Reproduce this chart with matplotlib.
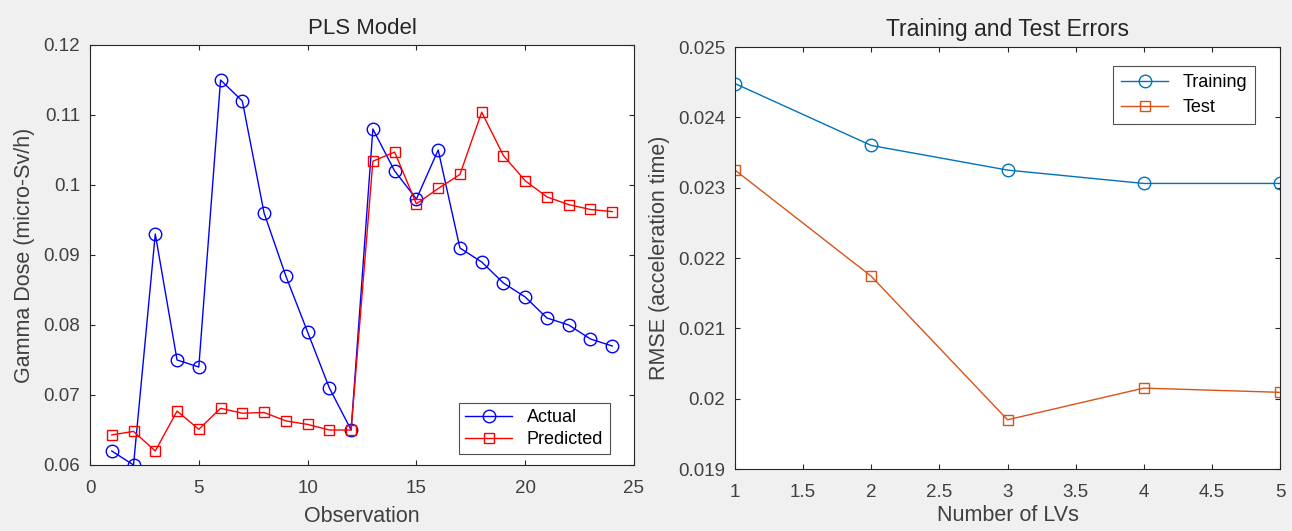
import matplotlib
matplotlib.use("Agg")
import matplotlib.pyplot as plt

plt.rcParams['font.family'] = ['Liberation Sans', 'DejaVu Sans']

# PLS model data
obs = list(range(1, 25))
actual = [0.062, 0.060, 0.093, 0.075, 0.074, 0.115, 0.112, 0.096, 0.087, 0.079, 0.071, 0.065,
          0.108, 0.102, 0.098, 0.105, 0.091, 0.089, 0.086, 0.084, 0.081, 0.080, 0.078, 0.077]
predicted = [0.0643, 0.0648, 0.0620, 0.0677, 0.0651, 0.0681, 0.0674, 0.0675, 0.0663, 0.0658, 0.0650, 0.0650,
             0.1034, 0.1047, 0.0973, 0.0995, 0.1015, 0.1104, 0.1042, 0.1006, 0.0983, 0.0972, 0.0965, 0.0962]

# training / test errors
n_lvs = [1, 2, 3, 4, 5]
train_rmse = [0.02448, 0.02360, 0.02325, 0.02306, 0.02306]
test_rmse = [0.02325, 0.02174, 0.01970, 0.02015, 0.02009]

left_yticks = [0.06, 0.07, 0.08, 0.09, 0.1, 0.11, 0.12]
left_ylabels = ['0.06', '0.07', '0.08', '0.09', '0.1', '0.11', '0.12']
right_xticks = [1, 1.5, 2, 2.5, 3, 3.5, 4, 4.5, 5]
right_xlabels = ['1', '1.5', '2', '2.5', '3', '3.5', '4', '4.5', '5']
right_yticks = [0.019, 0.020, 0.021, 0.022, 0.023, 0.024, 0.025]
right_ylabels = ['0.019', '0.02', '0.021', '0.022', '0.023', '0.024', '0.025']

W, H = 1292, 531
fig = plt.figure(figsize=(W / 100, H / 100), dpi=100, facecolor='#f0f0f0')
txt = '#262626'

def style(ax):
    ax.tick_params(direction='in', top=True, right=True, labelsize=13.5, colors=txt,
                   labelcolor='#404040', length=3.5, width=0.8, pad=7)
    ax.tick_params(axis='x', pad=11)
    for s in ax.spines.values():
        s.set_color(txt)
        s.set_linewidth(0.8)

# left panel
ax1 = fig.add_axes([90 / W, (H - 465) / H, 544 / W, 420 / H])
ax1.plot(obs, actual, '-o', color='blue', markerfacecolor='none', markersize=9, linewidth=1, label='Actual')
ax1.plot(obs, predicted, '-s', color='red', markerfacecolor='none', markersize=6.5, linewidth=1, label='Predicted')
ax1.set_xlim(0, 25)
ax1.set_ylim(0.06, 0.12)
ax1.set_xticks([0, 5, 10, 15, 20, 25])
ax1.set_yticks(left_yticks)
ax1.set_yticklabels(left_ylabels)
ax1.set_title('PLS Model', fontsize=16, color=txt, pad=8)
ax1.set_xlabel('Observation', fontsize=15.5, color='#404040', labelpad=6)
ax1.set_ylabel('Gamma Dose (micro-Sv/h)', fontsize=15.5, color='#404040', labelpad=6)
style(ax1)
leg = ax1.legend(loc='lower right', fontsize=13, fancybox=False, edgecolor=txt,
                 handlelength=2.6, borderaxespad=0.6, borderpad=0.35, labelspacing=0.25,
                 bbox_to_anchor=(0.975, 0.0))
leg.get_frame().set_linewidth(0.8)

# right panel
ax2 = fig.add_axes([735 / W, (H - 469) / H, 545 / W, 422 / H])
ax2.plot(n_lvs, train_rmse, '-o', color='#0072BD', markerfacecolor='none', markersize=9, linewidth=1, label='Training')
ax2.plot(n_lvs, test_rmse, '-s', color='#D95319', markerfacecolor='none', markersize=6.5, linewidth=1, label='Test')
ax2.set_xlim(1, 5)
ax2.set_ylim(0.019, 0.025)
ax2.set_xticks(right_xticks)
ax2.set_xticklabels(right_xlabels)
ax2.set_yticks(right_yticks)
ax2.set_yticklabels(right_ylabels)
ax2.set_title('Training and Test Errors', fontsize=16.5, color=txt, pad=8)
ax2.set_xlabel('Number of LVs', fontsize=15.5, color='#404040', labelpad=3)
ax2.set_ylabel('RMSE (acceleration time)', fontsize=15.5, color='#404040', labelpad=6)
style(ax2)
leg2 = ax2.legend(loc='upper right', fontsize=13, fancybox=False, edgecolor=txt,
                  handlelength=2.6, borderaxespad=0.0, borderpad=0.45, labelspacing=0.45,
                  bbox_to_anchor=(0.955, 0.955))
leg2.get_frame().set_linewidth(0.8)

fig.savefig('out.png', dpi=100, facecolor=fig.get_facecolor())
